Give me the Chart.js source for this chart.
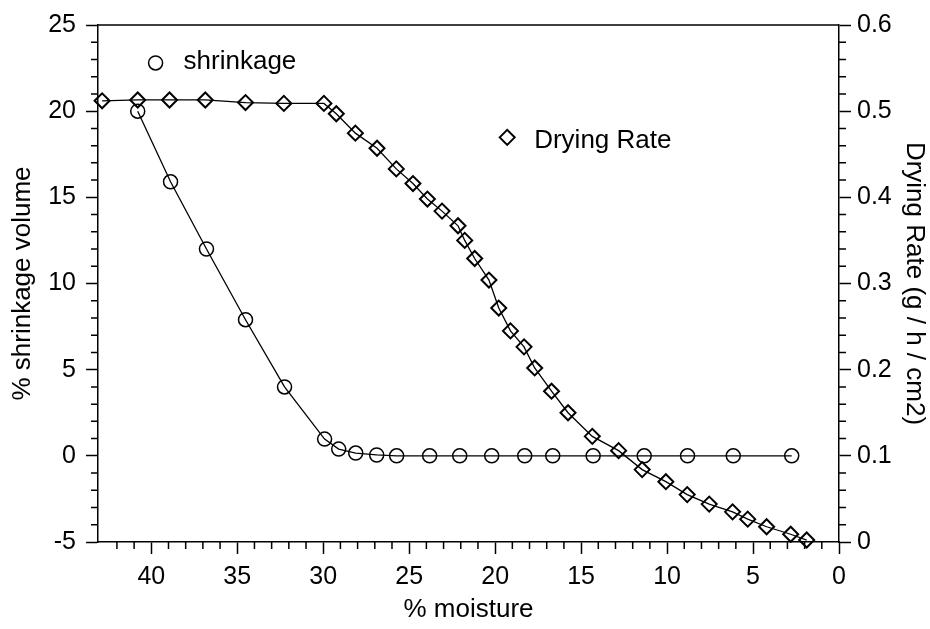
<!DOCTYPE html>
<html>
<head>
<meta charset="utf-8">
<script src="https://cdn.jsdelivr.net/npm/chart.js@4"></script>
<style>
  html, body { margin: 0; padding: 0; background: #fff; }
  #wrap { width: 930px; height: 629px; position: relative; }
</style>
</head>
<body>
<div id="wrap"><canvas id="chart"></canvas></div>
<script>
// shrinkage (left axis) vs % moisture
const shrinkMoisture = [40.79, 38.88, 36.79, 34.52, 32.25, 29.92, 29.10, 28.11, 26.89, 25.73,
                        23.81, 22.06, 20.20, 18.28, 16.65, 14.30, 11.33, 8.81, 6.15, 2.75];
const shrinkVolume   = [20.0, 15.9, 12.0, 7.9, 4.0, 0.97, 0.39, 0.16, 0.05, 0,
                        0, 0, 0, 0, 0, 0, 0, 0, 0, 0];

// drying rate (right axis) vs % moisture
const rateMoisture = [42.86, 40.79, 38.94, 36.86, 34.52, 32.29, 29.96, 29.24, 28.13, 26.87,
                      25.75, 24.78, 23.94, 23.09, 22.16, 21.77, 21.19, 20.36, 19.79, 19.11,
                      18.32, 17.70, 16.72, 15.76, 14.35, 12.82, 11.45, 10.07, 8.83, 7.55,
                      6.19, 5.31, 4.21, 2.81, 1.88];
const dryingRate   = [0.512, 0.513, 0.513, 0.513, 0.510, 0.509, 0.509, 0.497, 0.4745, 0.457,
                      0.433, 0.416, 0.398, 0.384, 0.367, 0.350, 0.329, 0.304, 0.2715, 0.245,
                      0.2265, 0.202, 0.175, 0.150, 0.1226, 0.106, 0.084, 0.070, 0.055, 0.044,
                      0.035, 0.0265, 0.0177, 0.009, 0.0023];

// axes
const xTicks  = [0, 5, 10, 15, 20, 25, 30, 35, 40];
const yTicks  = [-5, 0, 5, 10, 15, 20, 25];
const y1Ticks = [0, 0.1, 0.2, 0.3, 0.4, 0.5, 0.6];
const xMinorStep = 1, yMinorStep = 1, y1MinorStep = 0.02;

const FONT = "'Liberation Sans', Arial, sans-serif";
Chart.defaults.font.family = FONT;
Chart.defaults.color = '#000';

const pts = (xs, ys) => xs.map((x, i) => ({ x, y: ys[i] }));

// minor ticks + top frame line
const frame = {
  id: 'frame',
  afterDraw(chart) {
    const { ctx, chartArea: a, scales } = chart;
    ctx.save();
    ctx.strokeStyle = '#000';
    ctx.lineWidth = 1.5;
    ctx.beginPath();
    ctx.moveTo(a.left, a.top);
    ctx.lineTo(a.right, a.top);
    ctx.stroke();

    ctx.beginPath();
    for (let v = 0; v <= 42.001; v += xMinorStep) {
      if (Math.abs(v % 5) < 1e-6) continue;
      const p = scales.x.getPixelForValue(v);
      ctx.moveTo(p, a.bottom); ctx.lineTo(p, a.bottom + 7);
    }
    for (let v = -5; v <= 25.001; v += yMinorStep) {
      if (Math.abs(v % 5) < 1e-6) continue;
      const p = scales.y.getPixelForValue(v);
      ctx.moveTo(a.left - 7, p); ctx.lineTo(a.left, p);
    }
    for (let k = 0; k <= 30; k++) {
      if (k % 5 === 0) continue;
      const p = scales.y1.getPixelForValue(k * y1MinorStep);
      ctx.moveTo(a.right, p); ctx.lineTo(a.right + 7, p);
    }
    ctx.stroke();
    ctx.restore();
  }
};

// legend entries placed at data positions
const labels = {
  id: 'labels',
  afterDraw(chart) {
    const { ctx, scales } = chart;
    ctx.save();
    ctx.strokeStyle = '#000';
    ctx.fillStyle = 'rgba(0,0,0,0)';

    const p1x = scales.x.getPixelForValue(39.75), p1y = scales.y.getPixelForValue(22.8);
    ctx.lineWidth = 1.5;
    Chart.helpers.drawPoint(ctx, { pointStyle: 'circle', radius: 7, borderWidth: 1.5 }, p1x, p1y);

    const p2x = scales.x.getPixelForValue(19.3), p2y = scales.y1.getPixelForValue(0.4696);
    ctx.lineWidth = 2;
    Chart.helpers.drawPoint(ctx, { pointStyle: 'rectRot', radius: 7.5, borderWidth: 2 }, p2x, p2y);

    ctx.fillStyle = '#000';
    ctx.font = '26px ' + FONT;
    ctx.textBaseline = 'alphabetic';
    ctx.fillText('shrinkage', p1x + 28, p1y + 6);
    ctx.fillText('Drying Rate', p2x + 27, p2y + 11);
    ctx.restore();
  }
};

new Chart(document.getElementById('chart'), {
  type: 'scatter',
  data: {
    datasets: [
      {
        label: 'shrinkage',
        data: pts(shrinkMoisture, shrinkVolume),
        yAxisID: 'y',
        showLine: true,
        borderColor: '#000',
        borderWidth: 1.3,
        backgroundColor: 'rgba(0,0,0,0)',
        pointStyle: 'circle',
        pointRadius: 7,
        pointBorderWidth: 1.5,
        pointBorderColor: '#000',
        tension: 0,
        clip: false,
      },
      {
        label: 'Drying Rate',
        data: pts(rateMoisture, dryingRate),
        yAxisID: 'y1',
        showLine: true,
        borderColor: '#000',
        borderWidth: 1.3,
        backgroundColor: 'rgba(0,0,0,0)',
        pointStyle: 'rectRot',
        pointRadius: 7.5,
        pointBorderWidth: 2,
        pointBorderColor: '#000',
        tension: 0,
        clip: false,
      },
    ],
  },
  options: {
    responsive: true,
    maintainAspectRatio: false,
    animation: false,
    layout: { padding: { top: 22, left: 0, right: 0, bottom: 0 } },
    plugins: { legend: { display: false }, tooltip: { enabled: false } },
    scales: {
      x: {
        type: 'linear', reverse: true, min: 0, max: 43.1,
        afterBuildTicks: s => { s.ticks = xTicks.map(v => ({ value: v })); },
        afterFit: s => { s.height = 87; },
        grid: { drawOnChartArea: false, tickLength: 12, tickWidth: 1.5, tickColor: '#000' },
        border: { display: true, color: '#000', width: 1.5 },
        ticks: { font: { size: 25 }, padding: 8, maxRotation: 0, autoSkip: false },
        title: { display: true, text: '% moisture', font: { size: 26 }, padding: { top: 0, bottom: 4 } },
      },
      y: {
        type: 'linear', position: 'left', min: -5, max: 25,
        afterBuildTicks: s => { s.ticks = yTicks.map(v => ({ value: v })); },
        afterFit: s => { s.width = 98; },
        grid: { drawOnChartArea: false, tickLength: 12, tickWidth: 1.5, tickColor: '#000' },
        border: { display: true, color: '#000', width: 1.5 },
        ticks: { font: { size: 25 }, padding: 10 },
        title: { display: true, text: '% shrinkage volume', font: { size: 26 }, padding: { top: 7, bottom: 0 } },
      },
      y1: {
        type: 'linear', position: 'right', min: 0, max: 0.6,
        afterBuildTicks: s => { s.ticks = y1Ticks.map(v => ({ value: v })); },
        afterFit: s => { s.width = 91; },
        grid: { drawOnChartArea: false, tickLength: 12, tickWidth: 1.5, tickColor: '#000' },
        border: { display: true, color: '#000', width: 1.5 },
        ticks: { font: { size: 25 }, padding: 6, callback: v => String(+v.toFixed(1)) },
        title: { display: true, text: 'Drying Rate (g / h / cm2)', font: { size: 26 }, padding: { top: 0, bottom: 0 } },
      },
    },
  },
  plugins: [frame, labels],
});
</script>
</body>
</html>
